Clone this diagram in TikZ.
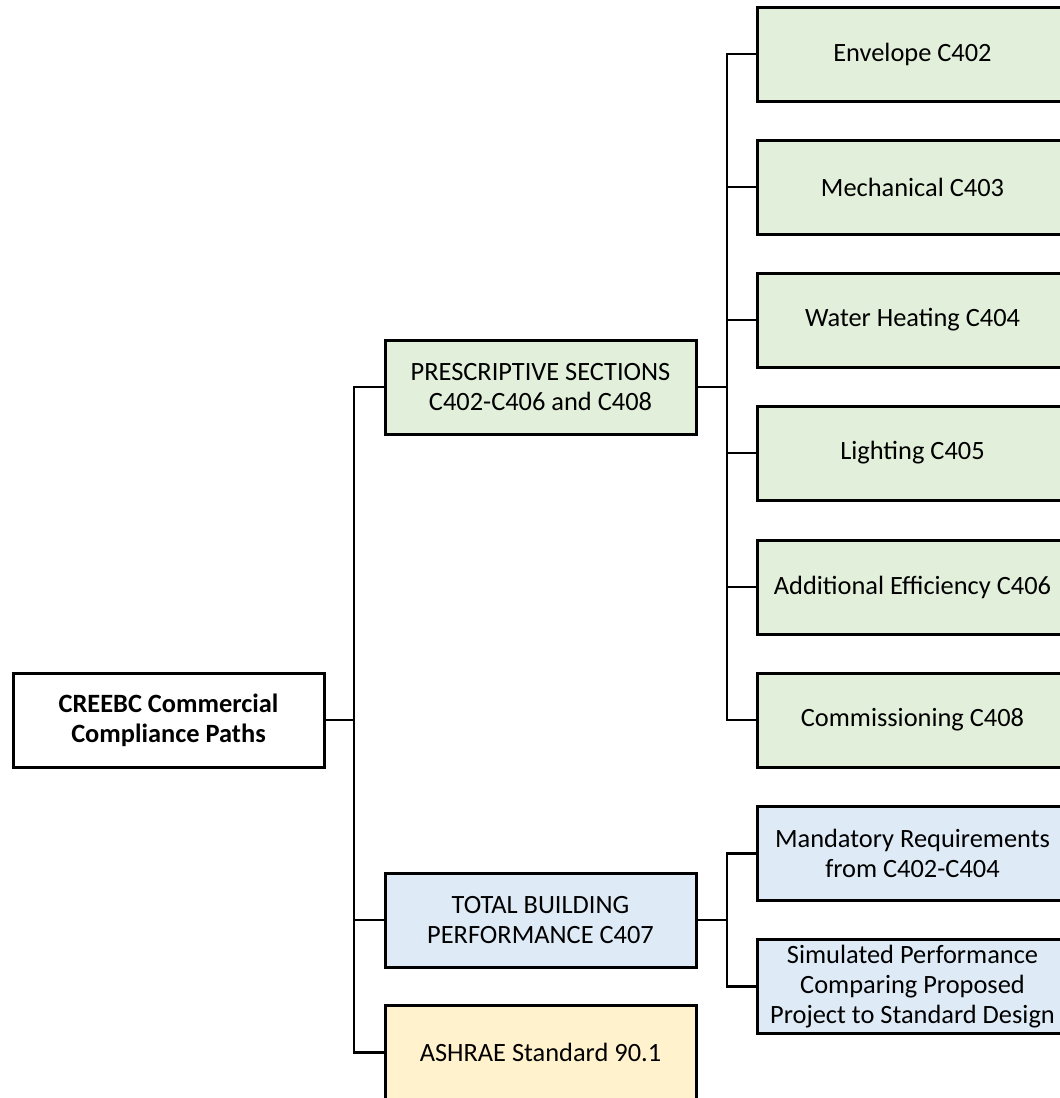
\documentclass[tikz,border=0pt]{standalone}
\usepackage{fontspec}
\setmainfont{Carlito}
\definecolor{gfill}{HTML}{E2EFDA}
\definecolor{bfill}{HTML}{DEEBF7}
\definecolor{yfill}{HTML}{FFF2CC}
\begin{document}
\begin{tikzpicture}[x=1pt,y=-1pt,
  box/.style={draw=black, line width=3pt, minimum width=311pt, minimum height=94pt,
    inner sep=0pt, align=center, font=\fontsize{26.4}{30}\selectfont},
  gbox/.style={box, fill=gfill},
  bbox/.style={box, fill=bfill},
  ybox/.style={box, fill=yfill},
  link/.style={draw=black, line width=2.8pt}]
\useasboundingbox (0,0) rectangle (1060,1098);
\clip (0,0) rectangle (1060,1098);
% root
\node[box, fill=white, font=\fontsize{26.4}{30}\selectfont\bfseries] (root) at (168.5,720) {CREEBC Commercial\\Compliance Paths};
% level 1
\node[gbox] (presc) at (540.5,387) {PRESCRIPTIVE SECTIONS\\C402-C406 and C408};
\node[bbox] (tbp) at (540.5,920) {TOTAL BUILDING\\PERFORMANCE C407};
\node[ybox, minimum height=95pt] (ash) at (540.5,1052.5) {ASHRAE Standard 90.1};
% level 2 prescriptive
\node[gbox] (env) at (912.5,54) {Envelope C402};
\node[gbox] (mech) at (912.5,187) {Mechanical C403};
\node[gbox] (wh) at (912.5,320) {Water Heating C404};
\node[gbox] (lit) at (912.5,453) {Lighting C405};
\node[gbox] (add) at (912.5,587) {Additional Efficiency C406};
\node[gbox] (com) at (912.5,720) {Commissioning C408};
% level 2 performance
\node[bbox] (mand) at (912.5,853.5) {Mandatory Requirements\\from C402-C404};
\node[bbox] (sim) at (912.5,986.5) {Simulated Performance\\Comparing Proposed\\Project to Standard Design};
% trunks
\coordinate (t1) at (354,720);
\coordinate (t2) at (727,387);
\coordinate (t3) at (727,920);
\draw[link] (root.east) -- (t1);
\draw[link] (presc.west) -| (t1);
\draw[link] (tbp.west) -| (t1);
\draw[link] (ash.west) -| (t1);
\draw[link] (presc.east) -- (t2);
\draw[link] (env.west) -| (t2);
\draw[link] (mech.west) -| (t2);
\draw[link] (wh.west) -| (t2);
\draw[link] (lit.west) -| (t2);
\draw[link] (add.west) -| (t2);
\draw[link] (com.west) -| (t2);
\draw[link] (tbp.east) -- (t3);
\draw[link] (mand.west) -| (t3);
\draw[link] (sim.west) -| (t3);
\end{tikzpicture}
\end{document}
